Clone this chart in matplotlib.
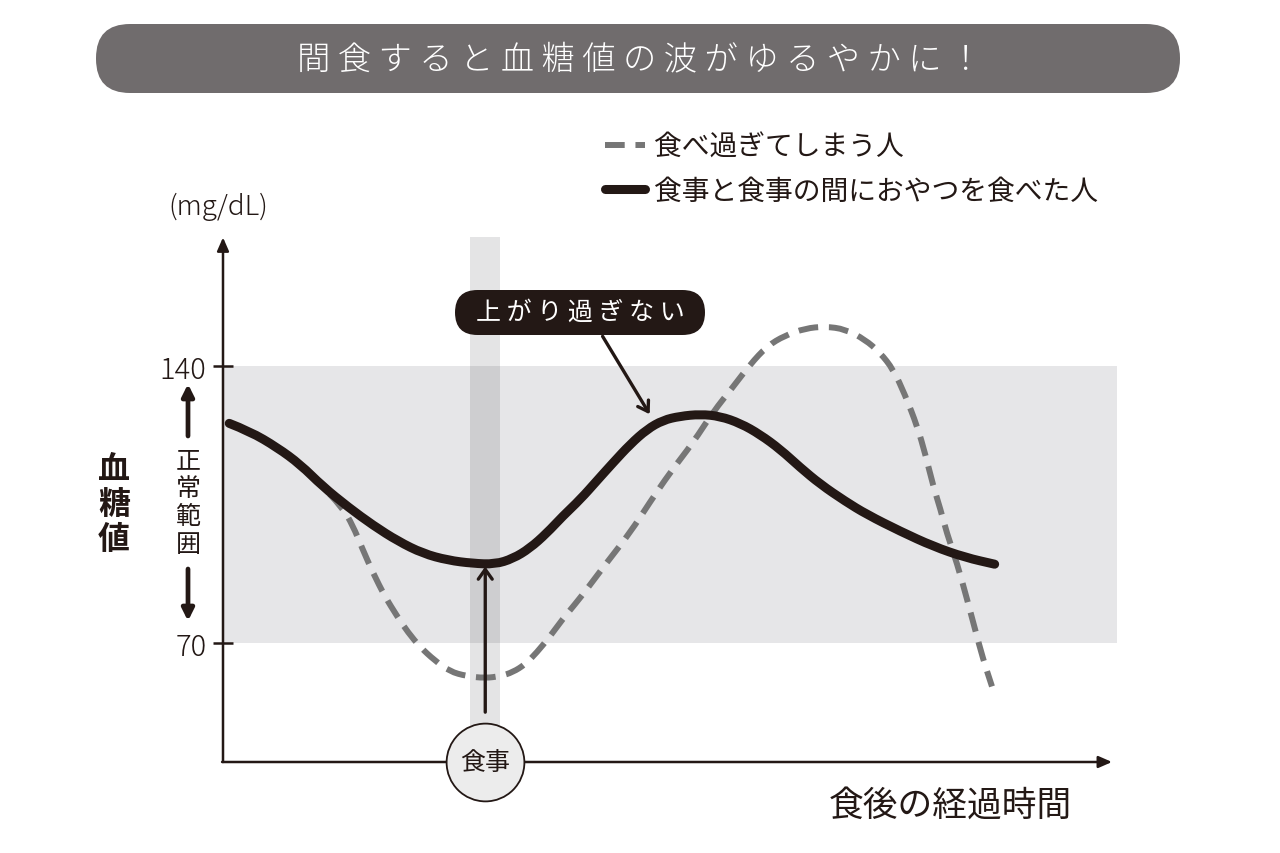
import matplotlib
matplotlib.use('Agg')
import matplotlib.pyplot as plt
from matplotlib.patches import FancyBboxPatch, PathPatch
from matplotlib.path import Path
from matplotlib.lines import Line2D
from matplotlib.transforms import IdentityTransform

plt.rcParams['font.family'] = ['Noto Sans CJK JP', 'DejaVu Sans']

# 食後の経過時間 (任意単位) と 血糖値 (mg/dL)
snack_x = [0.7, 3.0, 6.1, 8.7, 11.2, 14.1, 16.9, 19.7, 22.5, 25.3, 28.1, 30.6,
           32.6, 34.5, 36.4, 38.2, 40.2, 42.1, 43.9, 45.8, 47.7, 49.5, 51.4,
           53.7, 55.9, 58.2, 60.4, 62.7, 64.9, 67.2, 70.0, 72.4, 76.2, 79.9,
           83.5, 86.8]
snack_y = [125.6, 123.6, 119.5, 115.2, 109.7, 104.4, 99.8, 95.8, 92.7, 91.0,
           90.2, 90.0, 91.4, 94.0, 97.8, 102.1, 106.4, 111.2, 115.7, 120.3,
           124.1, 126.4, 127.4, 127.9, 127.4, 125.6, 122.8, 119.0, 114.5,
           110.2, 105.9, 102.6, 98.3, 94.5, 91.7, 90.0]

over_x = [12.0, 13.4, 14.6, 15.7, 16.9, 18.2, 19.6, 20.8, 22.2, 23.8, 25.5,
          27.4, 29.5, 31.2, 32.6, 34.0, 35.3, 36.8, 38.2, 39.6, 40.9, 43.2,
          45.8, 48.0, 50.3, 52.9, 55.1, 57.4, 59.3, 61.2, 63.2, 65.5, 67.7,
          70.0, 72.2, 73.9, 75.4, 76.7, 78.1, 79.0, 79.9, 80.7, 81.4, 82.6,
          83.7, 84.6, 85.5, 86.5]
over_y = [107.7, 104.4, 99.8, 93.8, 87.7, 81.9, 76.8, 72.8, 69.0, 65.7, 62.9,
          61.7, 61.2, 61.7, 62.7, 64.7, 67.7, 71.8, 76.1, 79.9, 83.6, 90.5,
          98.0, 105.6, 113.2, 120.8, 128.4, 134.9, 140.5, 145.1, 147.8, 149.6,
          150.1, 149.4, 146.8, 143.5, 139.2, 132.9, 124.8, 117.8, 109.7, 103.9,
          98.0, 90.0, 81.1, 73.5, 66.0, 59.1]

normal_low, normal_high = 70, 140
meal_x = 29.5
meal_band = [27.8, 31.2]

label_over = '食べ過ぎてしまう人'
label_snack = '食事と食事の間におやつを食べた人'
title = '間食すると血糖値の波がゆるやかに！'

BLACK = '#231815'
GRAY = '#767676'


def smooth_path(xs, ys):
    # 読み取った点を制御点にした2次ベジェ曲線
    pts = list(zip(xs, ys))
    verts = [pts[0]]
    codes = [Path.MOVETO]
    for i in range(1, len(pts) - 1):
        mid = ((pts[i][0] + pts[i + 1][0]) / 2, (pts[i][1] + pts[i + 1][1]) / 2)
        verts += [pts[i], mid]
        codes += [Path.CURVE3, Path.CURVE3]
    verts.append(pts[-1])
    codes.append(Path.LINETO)
    return Path(verts, codes)


fig = plt.figure(figsize=(12.8, 8.54), dpi=100)
ax = fig.add_axes([223 / 1280, 91 / 854, 889 / 1280, 523 / 854])
ax.set_xlim(0, 100)
ax.set_ylim(40, 172.2)
for s in ax.spines.values():
    s.set_visible(False)
ax.set_xticks([])
ax.set_yticks([normal_low, normal_high])
ax.tick_params(axis='y', direction='inout', length=14, width=1.8,
               color=BLACK, labelsize=21, labelcolor=BLACK, pad=5)
for t in ax.get_yticklabels():
    t.set_fontweight('light')

# 正常範囲の帯と食事の帯
ax.fill_between([0, 100.6], normal_low, normal_high, color='#e6e6e8',
                lw=0, zorder=1, clip_on=False)
ax.fill_between(meal_band, 40, 172.6, color='#111114', alpha=0.11,
                lw=0, zorder=2, clip_on=False)

over_patch = PathPatch(smooth_path(over_x, over_y), fc='none', ec=GRAY,
                       lw=4.3, capstyle='butt', zorder=3, clip_on=False)
over_patch.set_linestyle((0, (3.3, 1.8)))
ax.add_patch(over_patch)
snack_patch = PathPatch(smooth_path(snack_x, snack_y), fc='none', ec=BLACK,
                        lw=6.5, capstyle='round', joinstyle='round',
                        zorder=4, clip_on=False)
ax.add_patch(snack_patch)

# 軸の矢印
ax.annotate('', xy=(0, 172.6), xytext=(0, 40),
            arrowprops=dict(arrowstyle='-|>,head_length=0.8,head_width=0.35',
                            lw=1.8, color=BLACK, shrinkA=0, shrinkB=0),
            zorder=5, annotation_clip=False)
ax.annotate('', xy=(100, 40), xytext=(-0.1, 40),
            arrowprops=dict(arrowstyle='-|>,head_length=0.8,head_width=0.35',
                            lw=1.8, color=BLACK, shrinkA=0, shrinkB=0),
            zorder=5, annotation_clip=False)

# 食事の矢印と丸
ax.annotate('', xy=(meal_x, 89.4), xytext=(meal_x, 52.6),
            arrowprops=dict(arrowstyle='->,head_length=0.7,head_width=0.5',
                            lw=2.4, color=BLACK, shrinkA=0, shrinkB=0),
            zorder=6)
ax.plot([meal_x], [40], marker='o', ms=56, mfc='#ececec', mec=BLACK,
        mew=1.3, zorder=7, clip_on=False)
ax.text(meal_x, 40, '食事', fontsize=18, ha='center', va='center',
        color=BLACK, zorder=8)

# 注釈
ax.annotate('', xy=(48.0, 127.9), xytext=(42.7, 147.6),
            arrowprops=dict(arrowstyle='->,head_length=0.7,head_width=0.45',
                            lw=2.4, color=BLACK, shrinkA=0, shrinkB=0),
            zorder=6, annotation_clip=False)
fig.patches.append(FancyBboxPatch((455, 854 - 336), 250, 45,
                                  boxstyle='round,pad=0,rounding_size=22.5',
                                  fc=BLACK, ec='none',
                                  transform=IdentityTransform(), figure=fig))
fig.text(580 / 1280, 1 - 313 / 854, ' '.join('上がり過ぎない'),
         fontsize=18, color='white', ha='center', va='center')

# タイトル
fig.patches.append(FancyBboxPatch((96, 854 - 94), 1084, 69,
                                  boxstyle='round,pad=0,rounding_size=34',
                                  fc='#706c6d', ec='none',
                                  transform=IdentityTransform(), figure=fig))
fig.text(640 / 1280, 1 - 60 / 854, ' '.join(title), fontsize=24,
         color='white', ha='center', va='center', fontweight='light')

# 軸ラベル
fig.text(218 / 1280, 1 - 207 / 854, '(mg/dL)', fontsize=20, ha='center',
         va='center', color=BLACK, fontweight='light')
fig.text(114 / 1280, 1 - 505 / 854, '血\n糖\n値', fontsize=23,
         fontweight='bold', ha='center', va='center', color=BLACK,
         linespacing=1.1)
fig.text(188 / 1280, 1 - 503 / 854, '正\n常\n範\n囲', fontsize=18,
         ha='center', va='center', color=BLACK, linespacing=1.1)
fig.text(1072 / 1280, 1 - 806 / 854, '食後の経過時間', fontsize=25,
         ha='right', va='center', color=BLACK)

ax.annotate('', xy=(188 / 1280, 1 - 385 / 854), xytext=(188 / 1280, 1 - 437 / 854),
            xycoords='figure fraction', textcoords='figure fraction',
            arrowprops=dict(arrowstyle='-|>,head_length=0.7,head_width=0.35',
                            lw=3.4, color=BLACK, shrinkA=0, shrinkB=0))
ax.annotate('', xy=(188 / 1280, 1 - 622 / 854), xytext=(188 / 1280, 1 - 570 / 854),
            xycoords='figure fraction', textcoords='figure fraction',
            arrowprops=dict(arrowstyle='-|>,head_length=0.7,head_width=0.35',
                            lw=3.4, color=BLACK, shrinkA=0, shrinkB=0))

# 凡例
handles = [Line2D([], [], color=GRAY, lw=4.3, dashes=(3.3, 1.8),
                  dash_capstyle='butt'),
           Line2D([], [], color=BLACK, lw=6.5, solid_capstyle='round')]
leg = ax.legend(handles, [label_over, label_snack], loc='upper left',
                bbox_to_anchor=(605 / 1280, 1 - 133 / 854),
                bbox_transform=fig.transFigure, frameon=False, fontsize=20,
                handlelength=1.45, handletextpad=0.3, labelspacing=0.5,
                borderpad=0, borderaxespad=0)
for t in leg.get_texts():
    t.set_color(BLACK)

fig.savefig('out.png', dpi=100)
